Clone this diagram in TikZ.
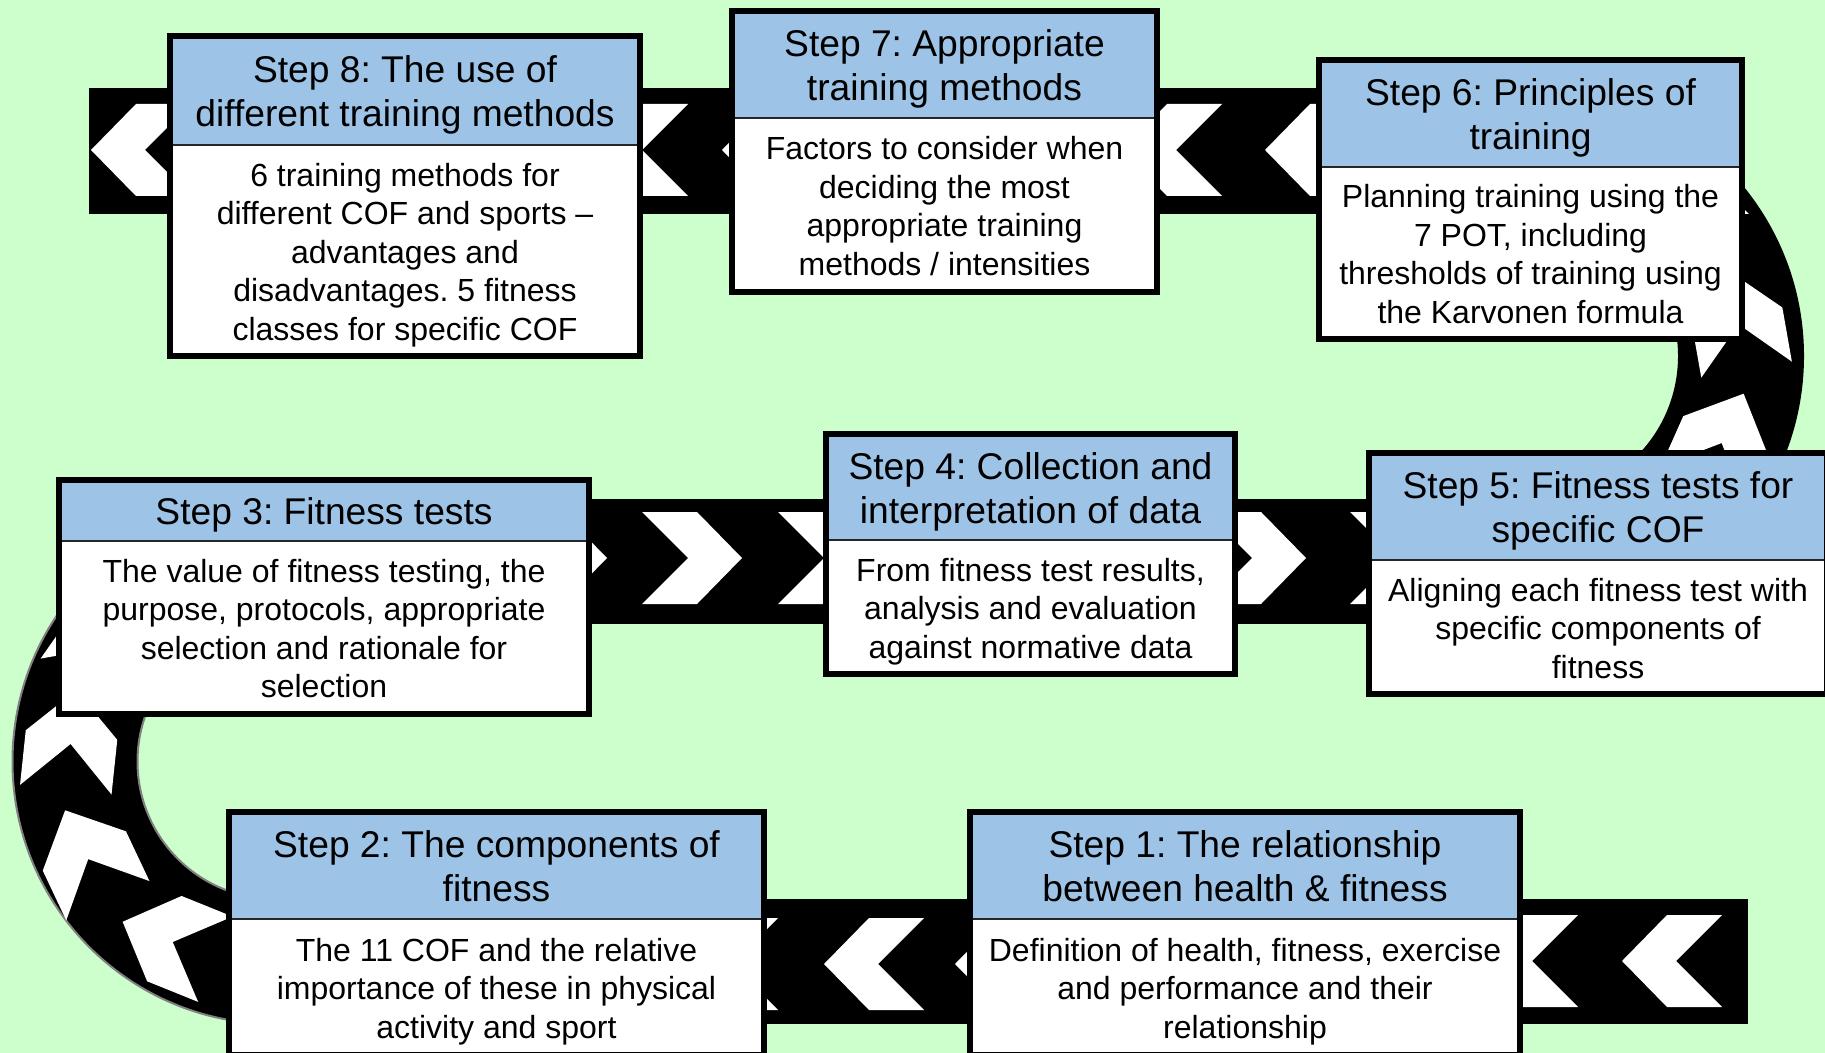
\documentclass[tikz,border=0pt]{standalone}
\usepackage{fontspec}
\setmainfont{Liberation Sans}
\definecolor{bggreen}{HTML}{CCFFCC}
\definecolor{hdrblue}{HTML}{9DC3E6}
\newcommand\pptopstrut{\rule{0pt}{\dimexpr0.905em+1.5pt\relax}}
\newcommand\ppbotstrut{\rule[-0.212em]{0pt}{0.212em}}
\tikzset{
  hdr/.style={rectangle, fill=hdrblue, draw=black!85, line width=1pt, inner sep=0pt, outer sep=0pt,
    align=center, font=\fontsize{18.6pt}{22.1pt}\selectfont\frenchspacing},
  bdy/.style={rectangle, fill=white, draw=black!85, line width=1pt, inner sep=0pt, outer sep=0pt,
    align=center, font=\fontsize{16pt}{19.25pt}\selectfont\frenchspacing},
  boxframe/.style={draw=black, line width=3pt},
  road/.style={fill=black},
  chevfill/.style={fill=white},
}
% chevron centred at (#1,#2), pointing at canvas angle #3
\newcommand\chevshape[3]{%
  \fill[chevfill, shift={({#1},{#2})}, rotate=#3]
    (-50,46) -- (5,46) -- (50,0) -- (5,-46) -- (-50,-46) -- (-4,0) -- cycle;}
% #1 name, #2 L, #3 R, #4 T, #5 header bottom, #6 B (outer pixel edges), #7 header, #8 body
\newcommand\stepbox[8]{%
  \node[hdr, minimum width={(#3-#2-6)*0.5pt}, minimum height={(#5-#4-3)*0.5pt}]
    (#1h) at ({(#2+#3)/2},{(#4+3+#5)/2}) {\pptopstrut#7\ppbotstrut};
  \node[bdy, minimum width={(#3-#2-6)*0.5pt}, minimum height={(#6-#5-3)*0.5pt}]
    (#1b) at ({(#2+#3)/2},{(#5+#6-3)/2}) {\pptopstrut#8\ppbotstrut};
  \draw[boxframe] (#1h.north west) rectangle (#1b.south east);}
\begin{document}
\begin{tikzpicture}[x=0.5pt, y=-0.5pt]
\path[use as bounding box] (0,0) rectangle (1825,1053);
\clip (0,0) rectangle (1825,1053);
\fill[bggreen] (0,0) rectangle (1825,1053);

% roads
\fill[road] (89,88) rectangle (1536,214);
\fill[road] (275,499) rectangle (1536,624);
\fill[road] (275,899) rectangle (1748,1024);
\begin{scope}
  \clip (1536,0) rectangle (1825,700);
  \fill[road, even odd rule] (1536,356) circle[radius=134pt] (1536,356) circle[radius=71pt];
\end{scope}
\begin{scope}
  \clip (0,450) rectangle (275,1053);
  \fill[road, even odd rule] (275,761.5) circle[radius=131.25pt] (275,761.5) circle[radius=68.75pt];
  \draw[gray, line width=1pt] (275,761.5) circle[radius=131.25pt] (275,761.5) circle[radius=68.75pt];
\end{scope}

% chevrons: top road (pointing left)
\foreach \cx in {141,638,772,1172,1315} {\chevshape{\cx}{150}{180}}
% middle road (pointing right)
\foreach \cx in {557,692,828,1256,1400} {\chevshape{\cx}{558}{0}}
% bottom road (pointing left)
\foreach \cx in {728,874,1005} {\chevshape{\cx}{964}{180}}
\foreach \cx in {1528,1672} {\chevshape{\cx}{961}{180}}
% right arc (pointing up)
\foreach \p in {-45,-10,24} {\chevshape{1536+205*cos(\p)}{356+205*sin(\p)}{90-\p}}
% left arc (pointing up)
\chevshape{169}{940.5}{158}
\chevshape{86.5}{855.5}{115.3}
\chevshape{71}{740}{84}
\chevshape{107}{644}{55}

% boxes
\stepbox{sa}{167}{643}{33}{145}{359}{Step 8: The use of\\different training methods}
  {6 training methods for\\different COF and sports –\\advantages and\\disadvantages. 5 fitness\\classes for specific COF}
\stepbox{sb}{729}{1160}{8}{118}{295}{Step 7: Appropriate\\training methods}
  {Factors to consider when\\deciding the most\\appropriate training\\methods / intensities}
\stepbox{sc}{1316}{1745}{57}{167}{342}{Step 6: Principles of\\training}
  {Planning training using the\\7 POT, including\\thresholds of training using\\the Karvonen formula}
\stepbox{sd}{1366}{1830}{450}{560}{697}{Step 5: Fitness tests for\\specific COF}
  {Aligning each fitness test with\\specific components of\\fitness}
\stepbox{se}{823}{1238}{431}{540}{677}{Step 4: Collection and\\interpretation of data}
  {From fitness test results,\\analysis and evaluation\\against normative data}
\stepbox{sf}{56}{592}{477}{541}{717}{Step 3: Fitness tests}
  {The value of fitness testing, the\\purpose, protocols, appropriate\\selection and rationale for\\selection}
\stepbox{sg}{226}{767}{809}{919}{1058}{Step 2: The components of\\fitness}
  {The 11 COF and the relative\\importance of these in physical\\activity and sport}
\stepbox{sh}{967}{1523}{809}{919}{1058}{Step 1: The relationship\\between health \& fitness}
  {Definition of health, fitness, exercise\\and performance and their\\relationship}
\end{tikzpicture}
\end{document}
